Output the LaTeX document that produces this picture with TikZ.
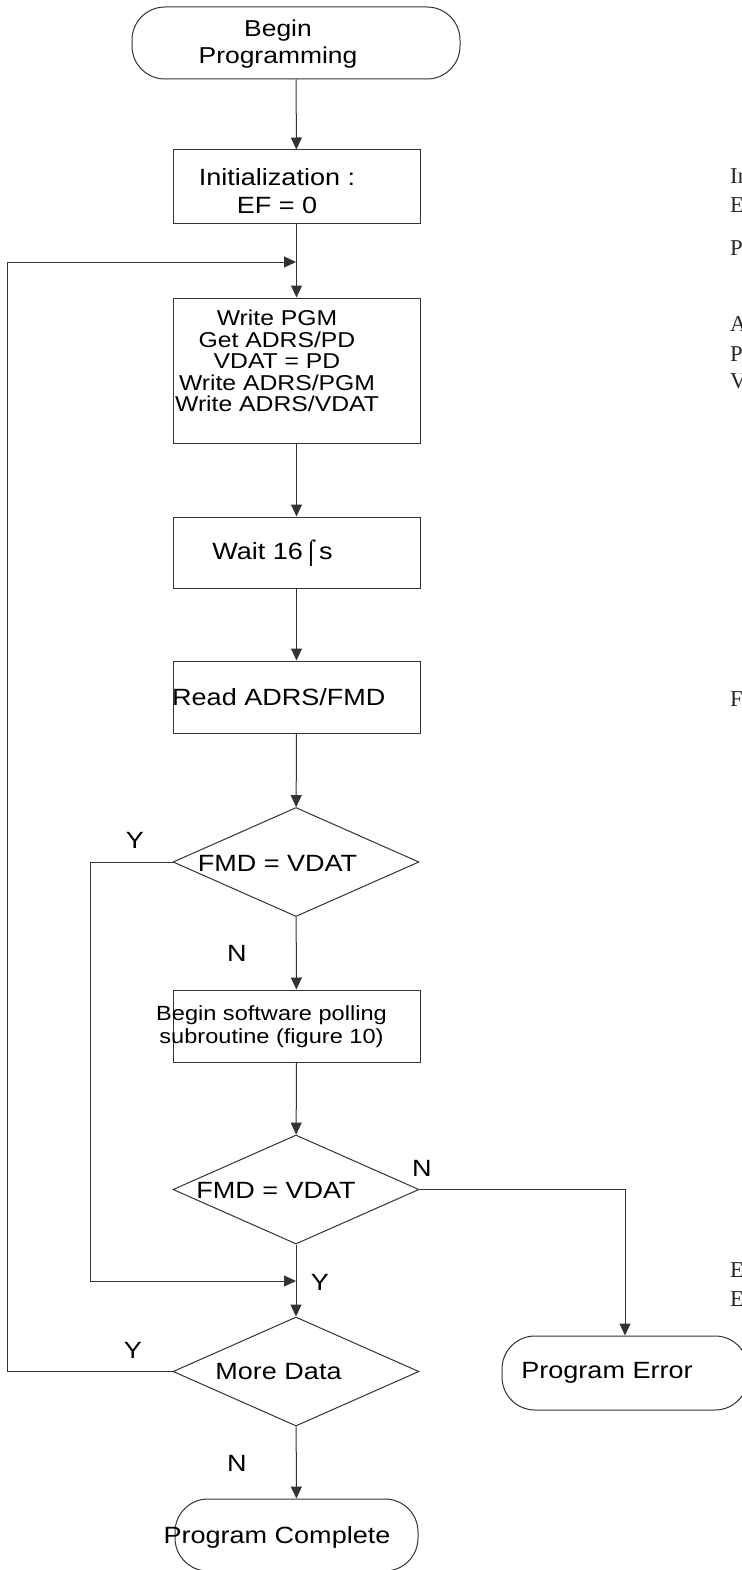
\documentclass[tikz,border=0pt]{standalone}
\usepackage{fontspec}
\setmainfont{Liberation Sans}[FakeStretch=1.15]
\newfontfamily\cutfont{Liberation Serif}
\usetikzlibrary{arrows.meta,shapes.geometric,calc}
\tikzstyle{flow}=[draw=black!80,line width=1pt]
\tikzstyle{process}=[rectangle,flow,minimum width=247,inner sep=0pt]
\tikzstyle{decision}=[diamond,flow,aspect=2.26,minimum width=246,minimum height=109,inner sep=0pt]
\tikzstyle{terminal}=[rectangle,flow,rounded corners=33,inner sep=0pt]
\tikzstyle{txt}=[inner sep=0pt,align=center,text=black,font=\fontsize{23.5}{28}\selectfont]
\tikzstyle{link}=[flow,-{Triangle[length=12pt,width=11pt]}]

\begin{document}
\begin{tikzpicture}[x=1pt,y=-1pt]
\useasboundingbox (0,0) rectangle (741,1570);
% shapes
\node[terminal,minimum width=328,minimum height=72] (start) at (296,43) {};
\node[process,minimum height=74] (init) at (296.5,187) {};
\node[process,minimum height=145] (prog) at (296.5,370.5) {};
\node[process,minimum height=71] (wait) at (296.5,552.5) {};
\node[process,minimum height=72] (read) at (296.5,697) {};
\node[decision] (chk1) at (296,862) {};
\node[process,minimum height=72] (poll) at (296.5,1026) {};
\node[decision] (chk2) at (296,1189.5) {};
\node[decision] (more) at (296,1371.5) {};
\node[terminal,minimum width=243,minimum height=72] (done) at (296.5,1535) {};
\node[terminal,minimum width=246,minimum height=74] (err) at (625,1373) {};
\coordinate (j1) at (296,262);
\coordinate (j2) at (296,1281);

% texts
\node[txt,font=\fontsize{23}{27}\selectfont] (t-start) at (278,44) {Begin\\Programming};
\node[txt] (t-init) at (277,191) {Initialization :\\EF = 0};
\node[txt,font=\fontsize{21.5}{21.5}\selectfont] (t-prog) at (277,361)
  {Write PGM\\Get ADRS/PD\\VDAT = PD\\Write ADRS/PGM\\Write ADRS/VDAT};
\node[txt] (t-wait) at (272.5,553) {Wait 16⌠s};
\node[txt,anchor=west] (t-read) at (172,697) {Read ADRS/FMD};
\node[txt] (t-chk1) at (277.5,863) {FMD = VDAT};
\node[txt,font=\fontsize{20.5}{23}\selectfont] (t-poll) at (271.5,1027)
  {Begin software polling\\subroutine (figure 10)};
\node[txt] (t-chk2) at (276,1190) {FMD = VDAT};
\node[txt] (t-more) at (278.5,1372) {More Data};
\node[txt] (t-done) at (277,1537) {Program Complete};
\node[txt] (t-err) at (607,1373) {Program Error};

% Y / N
\node[txt] (y1) at (135,840) {Y};
\node[txt] (n1) at (237,953) {N};
\node[txt] (n2) at (422,1168) {N};
\node[txt] (y2) at (320,1282) {Y};
\node[txt] (y3) at (133,1350) {Y};
\node[txt] (n3) at (237,1463) {N};

% text cut off at the right edge
\foreach \t/\y [count=\i] in {In/176,E/205,P/248,A/324,P/354,V/381,F/699,E/1270,E/1299}
  \node[inner sep=0pt,anchor=west,font=\cutfont\fontsize{22.7}{27}\selectfont,text=black!85] (cut\i) at (730,\y) {\t};

% connectors
\draw[link] (start) -- (init);
\draw[link] (init) -- (prog);
\foreach \a/\b in {prog/wait,wait/read,read/chk1,chk1/poll,poll/chk2,chk2/more,more/done}
  \draw[link] (\a) -- (\b);
\draw[link] (chk1.west) -- ++(-82,0) |- (j2);
\draw[link] (more.west) -- ++(-165,0) |- (j1);
\draw[link] (chk2.east) -| (err.north);

\end{tikzpicture}
\end{document}
